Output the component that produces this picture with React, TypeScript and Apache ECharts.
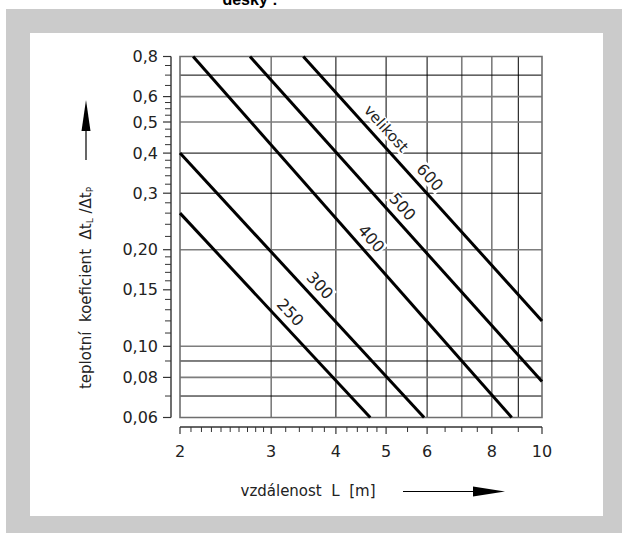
import React, { useEffect, useRef } from "react";
import * as echarts from "echarts";

const xMin = 2;
const xMax = 10;
const yMin = 0.06;
const yMax = 0.8;

const xTickValues = [2, 3, 4, 5, 6, 8, 10];
const xTickLabels = ["2", "3", "4", "5", "6", "8", "10"];
const xMinorTicks = [2.1, 2.2, 2.3, 2.4, 2.5, 2.6, 2.7, 2.8, 2.9, 3.2, 3.4, 3.6, 3.8, 4.2, 4.4, 4.6, 4.8, 5.5, 6.5, 7, 7.5, 9];
const yTickValues = [0.8, 0.6, 0.5, 0.4, 0.3, 0.2, 0.15, 0.1, 0.08, 0.06];
const yTickLabels = ["0,8", "0,6", "0,5", "0,4", "0,3", "0,20", "0,15", "0,10", "0,08", "0,06"];
const yMinorTicks = [0.75, 0.7, 0.65, 0.575, 0.55, 0.525, 0.475, 0.45, 0.425, 0.38, 0.36, 0.34, 0.32, 0.28, 0.26, 0.24, 0.22, 0.19, 0.18, 0.17, 0.16, 0.14, 0.13, 0.12, 0.11, 0.09, 0.07];

const xGridBlack = [4, 5, 6, 9];
const xGridGray = [3, 7, 8];
const yGridBlack = [0.7, 0.4, 0.3, 0.09, 0.07];
const yGridGray = [0.6, 0.5, 0.2, 0.1, 0.08];

const sizeNames = ["250", "300", "400", "500", "600"];
const lineStartX = [2, 2, 2.12, 2.73, 3.46];
const lineStartY = [0.26, 0.4, 0.8, 0.8, 0.8];
const lineEndX = [4.66, 5.92, 8.74, 10, 10];
const lineEndY = [0.06, 0.06, 0.06, 0.0777, 0.12];
const labelAtX = [3.13, 3.57, 4.48, 5.15, 5.82];
const captionText = "velikost";
const captionLine = 4;
const captionAtX = 4.79;

const FONT = "'DejaVu Sans', sans-serif";

export default function App() {
  const ref = useRef<HTMLDivElement>(null);
  useEffect(() => {
    document.body.style.margin = "0";
    if (!ref.current) return;
    const chart = echarts.init(ref.current, null, { renderer: "svg" });

    const lineSeries = sizeNames.map((name, i) => ({
      type: "line",
      name,
      data: [
        [lineStartX[i], lineStartY[i]],
        [lineEndX[i], lineEndY[i]],
      ],
      symbol: "none",
      lineStyle: { color: "#000", width: 3 },
      z: 3,
      silent: true,
    }));

    const gridRender = (params: any, api: any) => {
      const children: any[] = [];
      const p0 = api.coord([xMin, yMax]);
      const p1 = api.coord([xMax, yMin]);
      const left = p0[0], top = p0[1], right = p1[0], bottom = p1[1];
      const addV = (v: number, color: string, w: number) => {
        const x = api.coord([v, yMin])[0];
        children.push({ type: "line", shape: { x1: x, y1: top, x2: x, y2: bottom }, style: { stroke: color, lineWidth: w } });
      };
      const addH = (v: number, color: string, w: number) => {
        const y = api.coord([xMin, v])[1];
        children.push({ type: "line", shape: { x1: left, y1: y, x2: right, y2: y }, style: { stroke: color, lineWidth: w } });
      };
      xGridGray.forEach((v) => addV(v, "#7d7d7d", 1.6));
      xGridBlack.forEach((v) => addV(v, "#000", 1));
      yGridGray.forEach((v) => addH(v, "#7d7d7d", 1.6));
      yGridBlack.forEach((v) => addH(v, "#000", 1));
      // frame
      children.push({ type: "rect", shape: { x: left, y: top, width: right - left, height: bottom - top }, style: { fill: "none", stroke: "#6e6e6e", lineWidth: 1.6 } });
      // y axis line + ticks
      const ax = left - 9;
      children.push({ type: "line", shape: { x1: ax, y1: top, x2: ax, y2: bottom }, style: { stroke: "#333", lineWidth: 1.4 } });
      yTickValues.forEach((v, i) => {
        const y = api.coord([xMin, v])[1];
        children.push({ type: "line", shape: { x1: ax - 8, y1: y, x2: ax, y2: y }, style: { stroke: "#333", lineWidth: 1.2 } });
        children.push({ type: "text", x: ax - 13, y, style: { text: yTickLabels[i], fill: "#222", font: `16px ${FONT}`, align: "right", verticalAlign: "middle" } });
      });
      yMinorTicks.forEach((v) => {
        const y = api.coord([xMin, v])[1];
        children.push({ type: "line", shape: { x1: ax - 6, y1: y, x2: ax, y2: y }, style: { stroke: "#333", lineWidth: 1 } });
      });
      // x axis line + ticks
      const ay = bottom + 9.5;
      children.push({ type: "line", shape: { x1: left, y1: ay, x2: right, y2: ay }, style: { stroke: "#333", lineWidth: 1.4 } });
      xTickValues.forEach((v, i) => {
        const x = api.coord([v, yMin])[0];
        children.push({ type: "line", shape: { x1: x, y1: ay, x2: x, y2: ay + 7 }, style: { stroke: "#333", lineWidth: 1.2 } });
        children.push({ type: "text", x, y: ay + 24, style: { text: xTickLabels[i], fill: "#222", font: `16px ${FONT}`, align: "center", verticalAlign: "middle" } });
      });
      xMinorTicks.forEach((v) => {
        const x = api.coord([v, yMin])[0];
        children.push({ type: "line", shape: { x1: x, y1: ay, x2: x, y2: ay + 5 }, style: { stroke: "#333", lineWidth: 1 } });
      });
      return { type: "group", children };
    };

    const pointOnLine = (i: number, x: number) => {
      const lx0 = Math.log10(lineStartX[i]);
      const lx1 = Math.log10(lineEndX[i]);
      const ly0 = Math.log10(lineStartY[i]);
      const ly1 = Math.log10(lineEndY[i]);
      const ly = ly0 + ((Math.log10(x) - lx0) * (ly1 - ly0)) / (lx1 - lx0);
      return Math.pow(10, ly);
    };

    const labelRender = (params: any, api: any) => {
      const children: any[] = [];
      const place = (i: number, x: number, text: string, off: number, size: number) => {
        const a = api.coord([lineStartX[i], lineStartY[i]]);
        const b = api.coord([lineEndX[i], lineEndY[i]]);
        const dx = b[0] - a[0];
        const dy = b[1] - a[1];
        const len = Math.hypot(dx, dy);
        const ux = dx / len, uy = dy / len;
        const p = api.coord([x, pointOnLine(i, x)]);
        const cx = p[0] + uy * off;
        const cy = p[1] - ux * off;
        children.push({
          type: "text",
          x: cx,
          y: cy,
          rotation: -Math.atan2(dy, dx),
          style: { text, fill: "#222", font: `${size}px ${FONT}`, align: "center", verticalAlign: "middle", backgroundColor: "#fff", padding: [0, 1] },
        });
      };
      sizeNames.forEach((n, i) => place(i, labelAtX[i], n, 13, 16));
      place(captionLine, captionAtX, captionText, 13, 15);
      return { type: "group", children };
    };

    const option: any = {
      animation: false,
      grid: { left: 180, top: 56.5, width: 362, height: 361, containLabel: false },
      xAxis: { type: "log", logBase: 10, min: xMin, max: xMax, show: false, splitLine: { show: false } },
      yAxis: { type: "log", logBase: 10, min: yMin, max: yMax, show: false, splitLine: { show: false } },
      graphic: [
        { type: "rect", z: -20, shape: { x: 6, y: 9, width: 616, height: 524 }, style: { fill: "#cbcbcb" } },
        { type: "rect", z: -19, shape: { x: 30, y: 33, width: 573, height: 483 }, style: { fill: "#fff" } },
        { type: "text", z: 10, x: 250, y: 7, style: { text: "desky :", fill: "#000", font: "bold 16px 'Liberation Sans', Arial, sans-serif", align: "center", verticalAlign: "bottom" } },
        {
          type: "text",
          z: 10,
          x: 86,
          y: 288,
          rotation: Math.PI / 2,
          style: {
            text: "teplotní  koeficient  Δt{s|L} /Δt{s|P}",
            fill: "#222",
            font: `15px ${FONT}`,
            align: "center",
            verticalAlign: "middle",
            rich: { s: { fontSize: 9, fontFamily: "DejaVu Sans", fill: "#222", padding: [8, 0, 0, 0] } },
          },
        },
        { type: "line", z: 10, shape: { x1: 86, y1: 160, x2: 86, y2: 128 }, style: { stroke: "#000", lineWidth: 1.2 } },
        { type: "polygon", z: 10, shape: { points: [[81.5, 131], [90.5, 131], [86, 100]] }, style: { fill: "#000" } },
        { type: "text", z: 10, x: 308, y: 491, style: { text: "vzdálenost  L  [m]", fill: "#222", font: `15px ${FONT}`, align: "center", verticalAlign: "middle" } },
        { type: "line", z: 10, shape: { x1: 403, y1: 491.5, x2: 476, y2: 491.5 }, style: { stroke: "#000", lineWidth: 1.2 } },
        { type: "polygon", z: 10, shape: { points: [[473, 486.5], [473, 496.5], [505, 491.5]] }, style: { fill: "#000" } },
      ],
      series: [
        { type: "custom", coordinateSystem: "cartesian2d", data: [[xMin, yMin]], renderItem: gridRender, clip: false, z: 1, silent: true },
        ...lineSeries,
        { type: "custom", coordinateSystem: "cartesian2d", data: [[xMin, yMin]], renderItem: labelRender, clip: false, z: 5, silent: true },
      ],
    };
    chart.setOption(option);
    return () => chart.dispose();
  }, []);
  return <div ref={ref} style={{ width: 622, height: 533 }} />;
}
